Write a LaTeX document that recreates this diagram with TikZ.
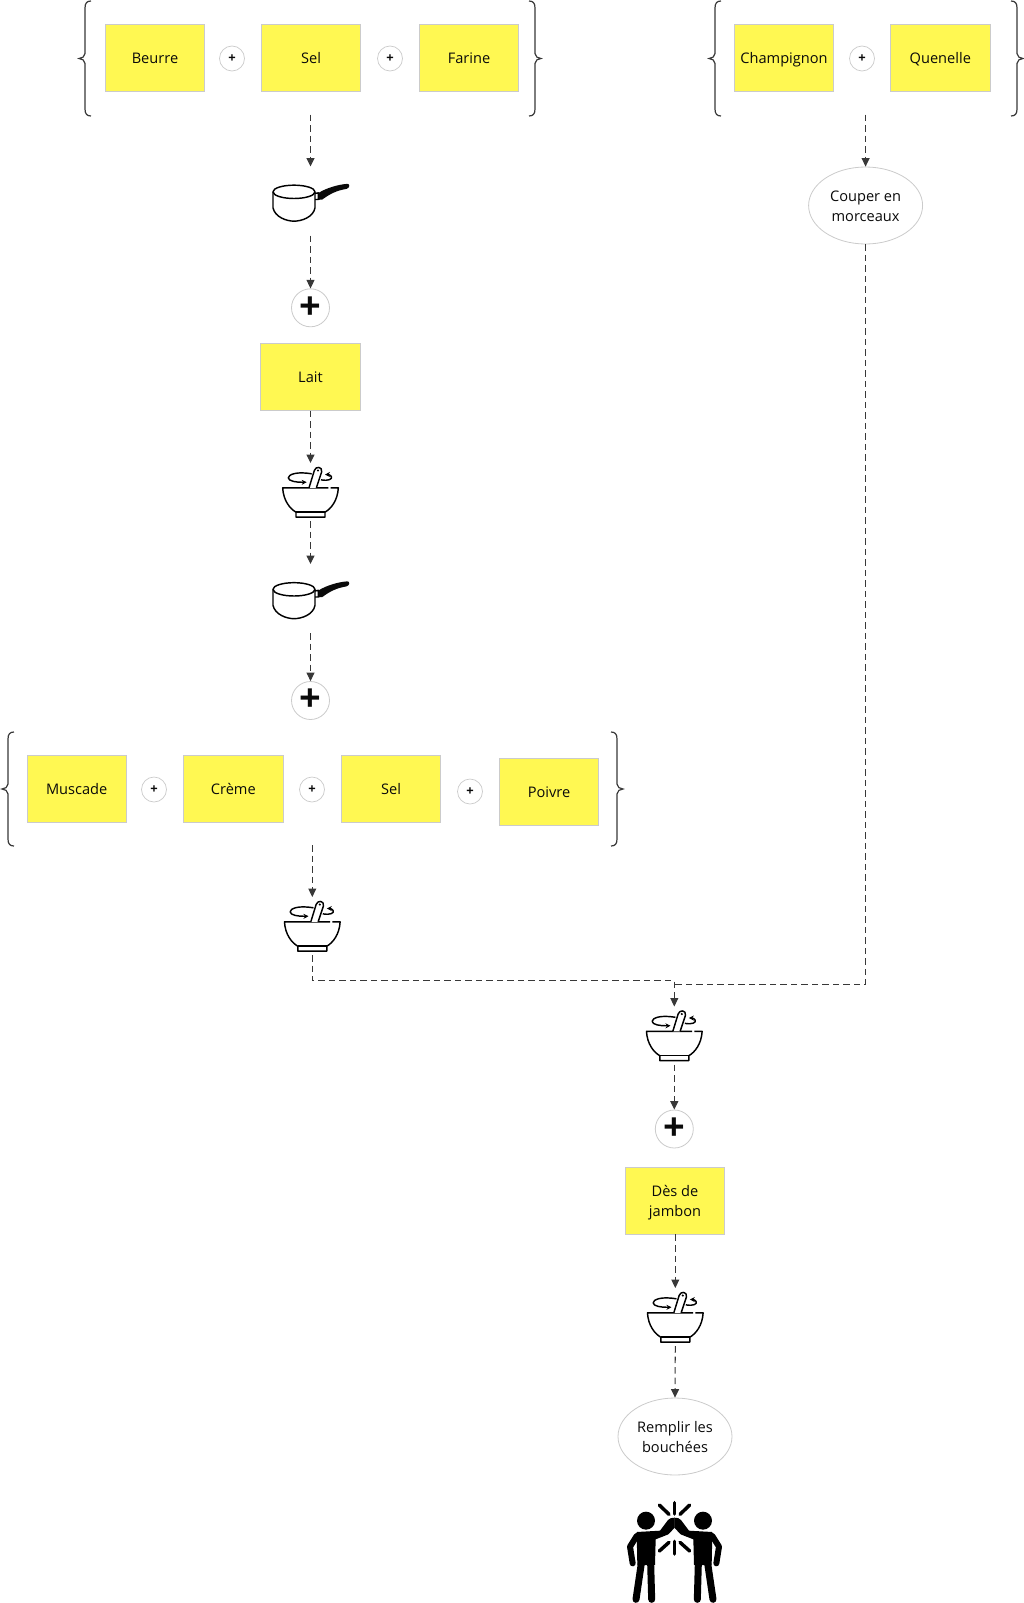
\documentclass[tikz,border=0pt]{standalone}
\usepackage{fontspec}
\setmainfont{Open Sans}
\usetikzlibrary{arrows.meta,shapes.geometric}
\definecolor{stickyfill}{HTML}{FFF852}
\definecolor{softedge}{HTML}{CBCBCB}
\definecolor{flowcol}{HTML}{383838}
\definecolor{inkcol}{HTML}{0A0A0A}
\newcommand{\st}{\rule[-3.2pt]{0pt}{18.2pt}}
\newcommand{\leftbrace}[3]{\draw[bracestyle] (#1+12,#2) .. controls (#1+8,#2) and (#1+6,#2+2) .. (#1+6,#2+7) -- (#1+6,#2/2+#3/2-5) .. controls (#1+6,#2/2+#3/2-2) and (#1+3,#2/2+#3/2) .. (#1,#2/2+#3/2) .. controls (#1+3,#2/2+#3/2) and (#1+6,#2/2+#3/2+2) .. (#1+6,#2/2+#3/2+5) -- (#1+6,#3-7) .. controls (#1+6,#3-2) and (#1+8,#3) .. (#1+12,#3);}
\newcommand{\rightbrace}[3]{\draw[bracestyle] (#1-12,#2) .. controls (#1-8,#2) and (#1-6,#2+2) .. (#1-6,#2+7) -- (#1-6,#2/2+#3/2-5) .. controls (#1-6,#2/2+#3/2-2) and (#1-3,#2/2+#3/2) .. (#1,#2/2+#3/2) .. controls (#1-3,#2/2+#3/2) and (#1-6,#2/2+#3/2+2) .. (#1-6,#2/2+#3/2+5) -- (#1-6,#3-7) .. controls (#1-6,#3-2) and (#1-8,#3) .. (#1-12,#3);}
\tikzset{
  every node/.style={text=inkcol},
  lbl/.style={font=\fontsize{14.6}{19.5}\selectfont, align=center},
  sticky/.style={lbl, draw=softedge, line width=0.8pt, fill=stickyfill, minimum width=99.6pt, minimum height=67.2pt, inner sep=0pt},
  task/.style={lbl, ellipse, draw=softedge, line width=0.8pt, fill=white, minimum width=114pt, minimum height=77pt, inner sep=0pt},
  plussmall/.style={circle, draw=softedge, line width=0.7pt, fill=white, minimum size=25pt, inner sep=0pt, font=\fontsize{13}{13}\bfseries},
  plusbig/.style={circle, draw=softedge, line width=0.8pt, fill=white, minimum size=38pt, inner sep=0pt, font=\fontsize{38}{38}\bfseries},
  iconbox/.style 2 args={minimum width=#1 pt, minimum height=#2 pt, inner sep=0pt, outer sep=0pt},
  flow/.style={draw=flowcol, line width=1.05pt, dash pattern=on 6.5pt off 4pt, -{Triangle[length=8.5pt,width=8pt]}},
  bracestyle/.style={draw=flowcol, line width=1.2pt},
  icn/.style={draw=black, line width=1.45pt, line join=round},
  pics/bowlicon/.style={code={
    \begin{scope}[x=0.3333pt,y=-0.3333pt,shift={(-151.5,-124.5)}]
      \draw[icn] (205,112) -- (68,112) .. controls (70,150) and (90,175) .. (108,185) -- (108,200) -- (195,200) -- (195,185) .. controls (213,175) and (233,150) .. (235,112) -- (212,112);
      \draw[icn] (108,185) -- (195,185);
      \draw[icn,fill=white] (147,112) -- (163,60) .. controls (167,46) and (188,48) .. (185,64) -- (169,112);
      \fill (174,60) circle (1.2pt);
      \draw[icn,-{Stealth[length=5pt,width=5pt]}] (155,70) .. controls (110,62) and (85,72) .. (85,82) .. controls (85,92) and (110,96) .. (140,95);
      \draw[icn,-{Stealth[length=5pt,width=5pt]}] (183,88) .. controls (205,92) and (218,86) .. (214,78) .. controls (212,74) and (206,72) .. (195,72);
    \end{scope}}},
  pics/panicon/.style={code={
    \begin{scope}[x=0.3333pt,y=-0.3333pt,shift={(-211.5,-151.5)}]
      \draw[icn] (162,124) ellipse [x radius=63, y radius=20];
      \draw[icn] (99,124) -- (99,172) .. controls (105,200) and (140,212) .. (162,212) .. controls (185,212) and (220,200) .. (225,172) -- (225,124);
      \draw[icn] (225,129) -- (235,127) -- (235,147) -- (225,147);
      \fill[inkcol] (236,127) .. controls (260,112) and (295,102) .. (322,100) .. controls (330,100) and (330,112) .. (320,115) .. controls (290,120) and (270,130) .. (247,147) -- (236,148) -- cycle;
    \end{scope}}},
  pics/peopleicon/.style={code={
    \begin{scope}[x=0.3333pt,y=-0.3333pt,shift={(-223.5,-217.5)}]
      \foreach \m in {1,-1}{
        \begin{scope}[shift={(223.5,0)},xscale=\m,shift={(-223.5,0)}]
          \fill (138,122) circle [radius=27];
          \fill (110,156) -- (180,152) -- (204,120) .. controls (208,114) and (216,113) .. (224,113) -- (224,143) -- (205,163) -- (167,178) -- (165,255) -- (112,255) -- cycle;
          \draw[line width=6pt,line cap=round,line join=round] (110,168) -- (90,200) -- (98,250);
          \draw[line width=7pt,line cap=round] (124,250) -- (108,358);
          \draw[line width=7pt,line cap=round] (152,250) -- (155,358);
          \draw[line width=3.5pt,line cap=round] (178,75) -- (207,103);
          \draw[line width=3.5pt,line cap=round] (178,213) -- (207,187);
        \end{scope}
      }
      \draw[line width=3.5pt,line cap=round] (223.5,68) -- (223.5,102);
      \draw[line width=3.5pt,line cap=round] (223.5,184) -- (223.5,222);
    \end{scope}}}
}
\begin{document}
\begin{tikzpicture}[x=1pt,y=-1pt]
\useasboundingbox (0,0) rectangle (1024,1603);
% first group
\node[sticky] (beurre) at (155,58) {\st Beurre};
\node[sticky] (sel1) at (311,58) {\st Sel};
\node[sticky] (farine) at (469,58) {\st Farine};
\node[plussmall] (pa) at (232,58.5) {+};
\node[plussmall] (pb) at (390,58.5) {+};
\leftbrace{79}{1}{116}
\rightbrace{541}{1}{116}
\coordinate (gA) at (310.5,114.5);
% second group
\node[sticky] (champ) at (784,58) {\st Champignon};
\node[sticky] (quen) at (940.3,58) {\st Quenelle};
\node[plussmall] (pc) at (862,58.5) {+};
\leftbrace{709}{1}{116}
\rightbrace{1023}{1}{116}
\coordinate (gB) at (865.6,114.5);
\node[task] (couper) at (865.6,205.5) {\st Couper en\\\st morceaux};
% left chain
\node[iconbox={78}{69}] (panA) at (310.5,201) {};
\pic at (panA.center) {panicon};
\node[plusbig] (plusA) at (310.5,307.8) {+};
\node[sticky] (lait) at (310.5,376.5) {\st Lait};
\node[iconbox={56}{58}] (bowlA) at (310.5,492) {};
\pic at (bowlA.center) {bowlicon};
\node[iconbox={78}{69}] (panB) at (310.5,598.5) {};
\pic at (panB.center) {panicon};
\node[plusbig] (plusB) at (310.5,700.5) {+};
% third group
\node[sticky] (muscade) at (76.7,788.5) {\st Muscade};
\node[sticky] (creme) at (233.3,788.5) {\st Crème};
\node[sticky] (sel2) at (391,788.5) {\st Sel};
\node[sticky] (poivre) at (549,791.5) {\st Poivre};
\node[plussmall] (pd) at (154,789.5) {+};
\node[plussmall] (pe) at (312,789.5) {+};
\node[plussmall] (pf) at (470,791.5) {+};
\leftbrace{2}{732}{846}
\rightbrace{623}{732}{846}
\coordinate (gC) at (312.3,845);
\node[iconbox={56}{58}] (bowlB) at (312.3,926) {};
\pic at (bowlB.center) {bowlicon};
% merged chain
\node[iconbox={56}{58}] (bowlC) at (674.3,1035.5) {};
\pic at (bowlC.center) {bowlicon};
\node[plusbig] (plusC) at (674.3,1129) {+};
\node[sticky] (jambon) at (675,1200.8) {\st Dès de\\\st jambon};
\node[iconbox={56}{58}] (bowlD) at (675.3,1317) {};
\pic at (bowlD.center) {bowlicon};
\node[task] (remplir) at (675,1436.5) {\st Remplir les\\\st bouchées};
\node[iconbox={95}{101}] (people) at (674.5,1552.5) {};
\pic at (people.center) {peopleicon};
% connectors
\coordinate (mL) at (674.3,980.4);
\coordinate (mR) at (674.3,984.4);
\draw[flow] (gA) -- (panA.north);
\draw[flow] (panA.south) -- (plusA.north);
\draw[flow] (lait.south) -- (bowlA.north);
\draw[flow] (bowlA.south) -- (panB.north);
\draw[flow] (panB.south) -- (plusB.north);
\draw[flow] (gC) -- (bowlB.north);
\draw[flow] (gB) -- (couper.north);
\draw[flow] (bowlB.south) |- (mL) -- (bowlC.north);
\draw[flow,-] (couper.south) |- (mR);
\draw[flow] (bowlC.south) -- (plusC.north);
\draw[flow] (jambon.south) -- ++(0.3,0) -- (bowlD.north);
\draw[flow] (bowlD.south) -- (remplir.north);
\end{tikzpicture}
\end{document}
